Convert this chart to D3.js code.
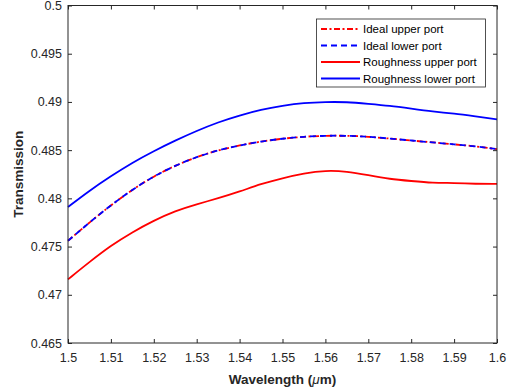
<!DOCTYPE html>
<html><head><meta charset="utf-8">
<script src="https://cdn.jsdelivr.net/npm/d3@7"></script>
<style>body{margin:0;background:#fff}svg{display:block}</style>
</head><body><svg id="c" width="510" height="391"></svg>
<script>
const wavelength = [1.500,1.505,1.510,1.515,1.520,1.525,1.530,1.535,1.540,1.545,1.550,1.555,1.560,1.565,1.570,1.575,1.580,1.585,1.590,1.595,1.600];
const idealUpper = [0.4756,0.4775,0.4793,0.4809,0.4823,0.4834,0.4843,0.4850,0.4855,0.4859,0.4862,0.4864,0.4865,0.4865,0.4864,0.4862,0.4860,0.4858,0.4856,0.4854,0.4851];
const idealLower = [0.4756,0.4775,0.4793,0.4809,0.4823,0.4834,0.4843,0.4850,0.4855,0.4859,0.4862,0.4864,0.4865,0.4865,0.4864,0.4862,0.4860,0.4858,0.4856,0.4854,0.4851];
const roughUpper = [0.4716,0.4734,0.4751,0.4765,0.4777,0.4787,0.4794,0.4800,0.4807,0.4815,0.4821,0.4826,0.4829,0.4828,0.4824,0.4820,0.4818,0.4816,0.4816,0.4815,0.4815];
const roughLower = [0.4791,0.4808,0.4823,0.4837,0.4849,0.4860,0.4870,0.4879,0.4886,0.4892,0.4896,0.4899,0.4900,0.4900,0.4898,0.4896,0.4893,0.4890,0.4888,0.4885,0.4882];
const xTicks = [1.5,1.51,1.52,1.53,1.54,1.55,1.56,1.57,1.58,1.59,1.6];
const yTicks = [0.465,0.47,0.475,0.48,0.485,0.49,0.495,0.5];
const seriesNames = ["Ideal upper port","Ideal lower port","Roughness upper port","Roughness lower port"];

const L=68, R=497, T=5.5, B=343;
const svg=d3.select("#c");
const x=d3.scaleLinear().domain([1.5,1.6]).range([L,R]);
const y=d3.scaleLinear().domain([0.465,0.5]).range([B,T]);
const axisCol="#262626";
const fmt=d=>String(+d.toFixed(3));

const series=[
 {name:seriesNames[0],vals:idealUpper,color:"#ff0000",dash:"6,2.5,2,2.5"},
 {name:seriesNames[1],vals:idealLower,color:"#0000ff",dash:"6,4"},
 {name:seriesNames[2],vals:roughUpper,color:"#ff0000",dash:null},
 {name:seriesNames[3],vals:roughLower,color:"#0000ff",dash:null}
];
const line=d3.line().x((d,i)=>x(wavelength[i])).y(d=>y(d)).curve(d3.curveBasis);
const g=svg.append("g");
[2,3,0,1].forEach(k=>{
  const s=series[k];
  g.append("path").attr("d",line(s.vals)).attr("fill","none")
   .attr("stroke",s.color).attr("stroke-width",1.8)
   .attr("stroke-dasharray",s.dash);
});

function styleAxis(sel){
  sel.select(".domain").remove();
  sel.selectAll(".tick line").attr("stroke",axisCol);
  sel.selectAll(".tick text").attr("fill",axisCol).style("font-family","'Liberation Sans',Arial,sans-serif").style("font-size","12.5px");
}
const ax=svg.append("g").attr("transform",`translate(0,${B})`)
  .call(d3.axisBottom(x).tickValues(xTicks).tickFormat(fmt).tickSizeInner(-4).tickSizeOuter(0).tickPadding(10));
styleAxis(ax);
const axT=svg.append("g").attr("transform",`translate(0,${T})`)
  .call(d3.axisTop(x).tickValues(xTicks).tickFormat("").tickSizeInner(-4).tickSizeOuter(0));
styleAxis(axT);
const ay=svg.append("g").attr("transform",`translate(${L},0)`)
  .call(d3.axisLeft(y).tickValues(yTicks).tickFormat(fmt).tickSizeInner(-4).tickSizeOuter(0).tickPadding(6));
styleAxis(ay);
const ayR=svg.append("g").attr("transform",`translate(${R},0)`)
  .call(d3.axisRight(y).tickValues(yTicks).tickFormat("").tickSizeInner(-4).tickSizeOuter(0));
styleAxis(ayR);
svg.append("rect").attr("x",L).attr("y",T).attr("width",R-L).attr("height",B-T)
  .attr("fill","none").attr("stroke",axisCol).attr("stroke-width",1);

svg.append("text").attr("x",(L+R)/2).attr("y",384).attr("text-anchor","middle")
  .attr("fill",axisCol).style("font-family","'Liberation Sans',Arial,sans-serif")
  .style("font-size","13.5px").style("font-weight","bold")
  .call(t=>{t.append("tspan").text("Wavelength (");
            t.append("tspan").text("\u03bc").style("font-style","italic").style("font-weight","normal");
            t.append("tspan").text("m)");});
svg.append("text").attr("transform",`translate(23,${(T+B)/2}) rotate(-90)`).attr("text-anchor","middle")
  .attr("fill",axisCol).style("font-family","'Liberation Sans',Arial,sans-serif")
  .style("font-size","13.5px").style("font-weight","bold").text("Transmission");

const lg=svg.append("g");
lg.append("rect").attr("x",316.5).attr("y",19).attr("width",169).attr("height",68)
  .attr("fill","#fff").attr("stroke",axisCol).attr("stroke-width",0.8);
const rowY=[29,45.5,62,78.5];
series.forEach((s,i)=>{
  lg.append("line").attr("x1",321).attr("x2",360).attr("y1",rowY[i]).attr("y2",rowY[i])
    .attr("stroke",s.color).attr("stroke-width",1.8).attr("stroke-dasharray",s.dash);
  lg.append("text").attr("x",363).attr("y",rowY[i]+4).attr("fill","#000")
    .style("font-family","'Liberation Sans',Arial,sans-serif").style("font-size","11.5px").text(s.name);
});
</script></body></html>
